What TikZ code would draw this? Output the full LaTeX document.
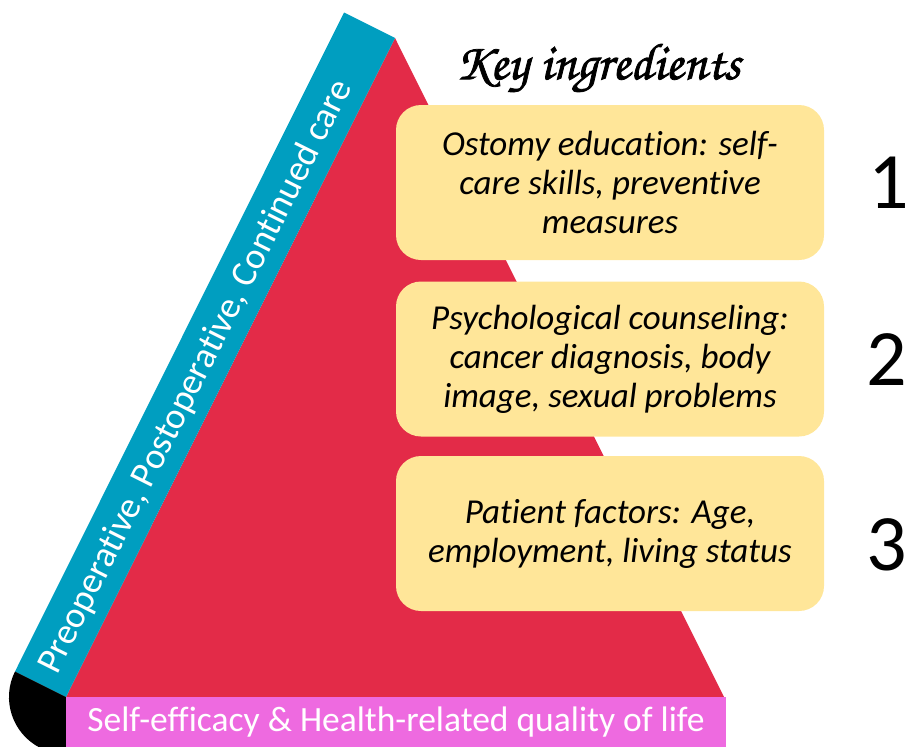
\documentclass[tikz,border=0pt]{standalone}
\usepackage{fontspec}
\setmainfont{Carlito}[Ligatures=NoCommon]
\newfontfamily\chorus[FakeBold=1.5]{texgyrechorus-mediumitalic.otf}
\definecolor{tri}{RGB}{227,43,72}
\definecolor{band}{RGB}{0,158,192}
\definecolor{pinkb}{RGB}{238,106,224}
\definecolor{yel}{RGB}{255,230,153}
\tikzset{
  ingr/.style={fill=yel, rounded corners=25pt, minimum width=428pt, minimum height=155pt,
    align=center, font=\fontsize{35}{39}\selectfont\itshape, inner sep=0pt},
  numlab/.style={font=\fontsize{80}{90}\selectfont, inner sep=0pt},
  whitetxt/.style={text=white, font=\fontsize{35.5}{39}\selectfont, inner sep=0pt}
}
\begin{document}
\begin{tikzpicture}[x=1pt,y=-1pt]
\useasboundingbox (0,0) rectangle (908,747);
\clip (0,0) rectangle (908,747);
\fill[tri] (66,697) -- (395,38) -- (724,697) -- cycle;
\fill[band] (66,697) -- (395,38) -- (344,12.5) -- (15,671.5) -- cycle;
\fill[black] (66,697) -- (15,671.5) arc[start angle=206.6, end angle=90, radius=57] -- cycle;
\node[whitetxt, fill=pinkb, minimum width=660pt, minimum height=50pt] (base) at (396,722) {Self-efficacy \& Health-related quality of life};
\node[whitetxt, font=\fontsize{36.8}{39}\selectfont, rotate=63.4] (phase) at (196,377) {Preoperative, Postoperative, Continued care};
\node[font=\chorus\fontsize{52}{60}\selectfont, inner sep=0pt] (title) at (598,68) {Key ingredients};
\node[ingr] (b1) at (610,182.5) {Ostomy education: self-\\care skills, preventive\\measures};
\node[ingr] (b2) at (610,359) {Psychological counseling:\\cancer diagnosis, body\\image, sexual problems};
\node[ingr] (b3) at (610,533.5) {Patient factors: Age,\\employment, living status};
\node[numlab] (n1) at (889,183) {1};
\node[numlab] (n2) at (887,360) {2};
\node[numlab] (n3) at (887,545) {3};
\end{tikzpicture}
\end{document}
